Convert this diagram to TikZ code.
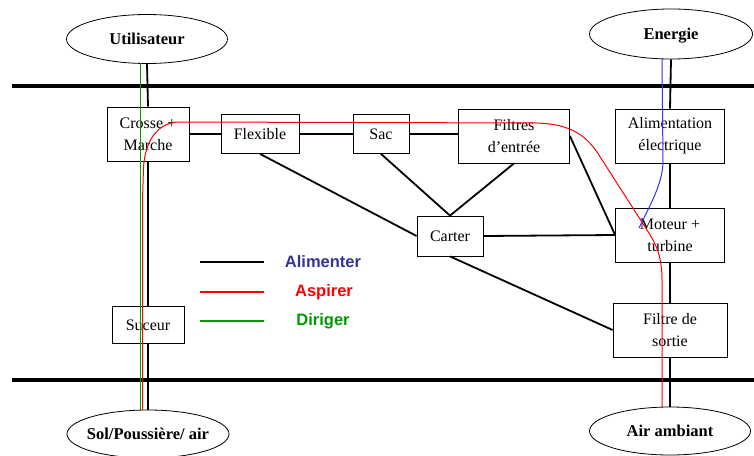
\documentclass[tikz,border=0pt]{standalone}
\usepackage{fontspec}
\setmainfont{Liberation Serif}
\newfontfamily\legfont{Liberation Sans}
\usetikzlibrary{shapes.geometric}
\definecolor{legblue}{RGB}{51,51,153}
\definecolor{leggreen}{RGB}{0,153,0}
\definecolor{linegreen}{RGB}{0,160,0}
\definecolor{lineblue}{RGB}{50,50,255}
\newcommand{\ovaltext}[1]{\makebox[0pt]{#1}}
\begin{document}
\begin{tikzpicture}[x=1pt,y=-1pt,
  box/.style={draw,fill=white,line width=0.8pt,inner sep=0pt,align=center,font=\fontsize{16}{22}\selectfont},
  oval/.style={ellipse,draw,fill=white,line width=0.8pt,inner sep=0pt,text height=11pt,text depth=1pt,font=\bfseries\fontsize{16.5}{18}\selectfont},
  link/.style={line width=1.8pt},
  rail/.style={line width=3.6pt},
  flow/.style={line width=1pt},
  legtext/.style={font=\legfont\bfseries\fontsize{16.5}{18}\selectfont,inner sep=0pt}]
\useasboundingbox (0,0) rectangle (754,455);
% rails
\coordinate (r1a) at (12,86); \coordinate (r1b) at (754,86);
\coordinate (r2a) at (12,380); \coordinate (r2b) at (754,380);
\draw[rail] (r1a) -- (r1b);
\draw[rail] (r2a) -- (r2b);
% ellipses
\node[oval,minimum width=161,minimum height=49] (util) at (147,39) {\ovaltext{Utilisateur}};
\node[oval,minimum width=163,minimum height=50] (ener) at (671,34) {\ovaltext{Energie}};
\node[oval,minimum width=162,minimum height=48] (sol) at (148,434) {\ovaltext{Sol/Poussière/ air}};
\node[oval,minimum width=161,minimum height=48] (air) at (670,431) {\ovaltext{Air ambiant}};
% boxes
\node[box,minimum width=82,minimum height=54] (crosse) at (148,134) {Crosse +\\Marche};
\node[box,minimum width=78,minimum height=39] (flex) at (260,134) {Flexible};
\node[box,minimum width=56,minimum height=39] (sac) at (381,134) {Sac};
\node[box,minimum width=111,minimum height=54] (filt) at (514,136) {Filtres\\d’entrée};
\node[box,minimum width=109,minimum height=54] (alim) at (670,136) {Alimentation\\électrique};
\node[box,minimum width=109,minimum height=54] (mot) at (670,235) {Moteur +\\turbine};
\node[box,minimum width=66,minimum height=40] (cart) at (450,236) {Carter};
\node[box,minimum width=72,minimum height=37] (suc) at (148,325) {Suceur};
\node[box,minimum width=114,minimum height=54] (fsort) at (670,330) {Filtre de\\sortie};
% black links
\draw[link] (util.south) -- (crosse.north);
\draw[link] (crosse.south) -- (suc.north);
\draw[link] (suc.south) -- (sol.north);
\draw[link] (crosse.east) -- (flex.west);
\draw[link] (flex.east) -- (sac.west);
\draw[link] (sac.east) -- (filt.west |- sac.east);
\draw[link] (flex.south) -- (cart.west);
\draw[link] (sac.south) -- (cart.north);
\draw[link] (filt.south) -- (cart.north);
\draw[link] (filt.east) -- (mot.west);
\draw[link] (cart.east) -- (mot.west);
\draw[link] (cart.south) -- (fsort.west);
\draw[link] (ener.south) -- (alim.north);
\draw[link] (alim.south) -- (mot.north);
\draw[link] (mot.south) -- (fsort.north);
\draw[link] (fsort.south) -- (air.north);
% coloured flows
\coordinate (g1) at (140.5,63); \coordinate (g2) at (140.5,410);
\draw[flow,linegreen] (g1) -- (g2);
\coordinate (a1) at (142.5,410); \coordinate (a2) at (662,407);
\draw[flow,red] (a1) -- (142.5,200) -- (143.5,168)
  .. controls (145,140) and (158,123) .. (178,122) -- (537,123)
  .. controls (570,124) and (585,135) .. (597,152) -- (647,230)
  .. controls (657,245) and (662,258) .. (662,280) -- (a2);
\coordinate (b1) at (662,59); \coordinate (b2) at (639,228);
\draw[flow,lineblue] (b1) -- (663,163) .. controls (662,185) and (650,205) .. (b2);
% legend
\coordinate (l1a) at (200,262); \coordinate (l1b) at (264,262);
\coordinate (l2a) at (200,292); \coordinate (l2b) at (264,292);
\coordinate (l3a) at (200,321); \coordinate (l3b) at (264,321);
\draw[line width=1.8pt] (l1a) -- (l1b);
\draw[line width=1.5pt,red] (l2a) -- (l2b);
\draw[line width=1.5pt,leggreen] (l3a) -- (l3b);
\node[legtext,text=legblue] (t1) at (323,262) {Alimenter};
\node[legtext,text=red] (t2) at (324,292) {Aspirer};
\node[legtext,text=leggreen] (t3) at (323,321) {Diriger};
\end{tikzpicture}
\end{document}
